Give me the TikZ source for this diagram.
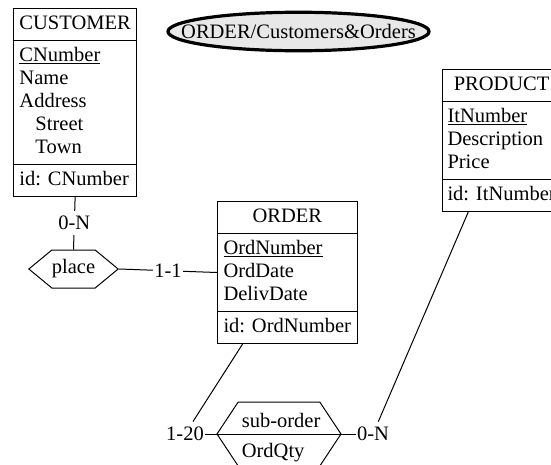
\documentclass[tikz,border=0pt]{standalone}
\usepackage{fontspec}
\setmainfont{Liberation Serif}
\usetikzlibrary{shapes.multipart,shapes.symbols,shapes.geometric}

\tikzset{
  entity/.style={draw, rectangle split, rectangle split parts=3,
    rectangle split part align={center,left,left}, align=left,
    inner xsep=6pt, inner ysep=4pt, anchor=north west},
  rel/.style={draw, signal, signal to=west and east, inner sep=0pt},
  card/.style={fill=white, inner xsep=1pt, inner ysep=5pt},
}

\begin{document}
\begin{tikzpicture}[x=1pt,y=-1pt,line width=1pt,
  font=\fontsize{20.5}{23}\selectfont]
  \useasboundingbox (0,0) rectangle (551,464);
  \clip (0,0) rectangle (551,464);

  % schema name (text kept out of the ellipse size)
  \node[ellipse,draw,line width=3.2pt,fill=gray!18,inner sep=0pt,
  minimum width=261pt,minimum height=38.5pt] (schema) at (298.5,31.5)
  {\makebox[0pt]{ORDER/Customers\&Orders}};

  % entity types
  \node[entity] (customer) at (13,8) {\strut CUSTOMER
    \nodepart{two}\strut\underline{CNumber}\\\strut Name\\\strut Address\\
    \strut\hspace{16pt}Street\\\strut\hspace{16pt}Town
    \nodepart{three}\strut id: CNumber};

  \node[entity] (order) at (217,201) {\strut ORDER
    \nodepart{two}\strut\underline{OrdNumber}\\\strut OrdDate\\\strut DelivDate
    \nodepart{three}\strut id: OrdNumber};

  \node[entity,inner xsep=5pt] (product) at (442,69) {\strut PRODUCT
    \nodepart{two}\strut\underline{ItNumber}\\\strut Description\\\strut Price
    \nodepart{three}\strut id: ItNumber};

  % relationship types
  \node[rel,minimum width=87pt,minimum height=38pt,signal pointer angle=79]
  (place) at (73.5,269) {place};

  \node[rel,minimum width=124pt,minimum height=64pt,signal pointer angle=113]
  (suborder) at (279,434) {};
  \draw (suborder.west) -- (suborder.east);
  \node[anchor=base west] (subname) at (238,427) {sub-order};
  \node[anchor=base west] (subattr) at (238,457) {OrdQty};

  % roles
  \draw (customer.south) -- node[card] (c1) {0-N} (place.north);
  \draw (place.east) -- node[card] (c2) {1-1} (order.west);

  \node[card] (c3) at (185,434) {1-20};
  \draw (order.238) -- (c3);
  \draw (c3) -- (suborder.west);

  \node[card] (c4) at (373,434) {0-N};
  \draw (product.245) -- (c4);
  \draw (suborder.east) -- (c4);
\end{tikzpicture}
\end{document}
